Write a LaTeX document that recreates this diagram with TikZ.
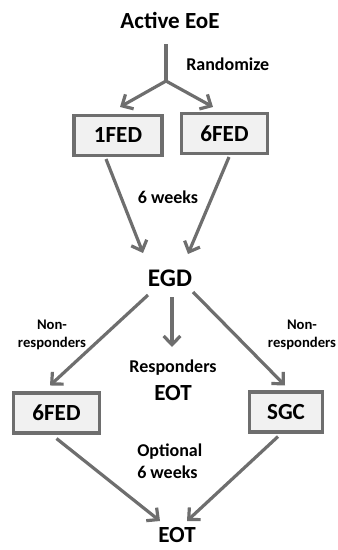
\documentclass[tikz,border=0pt]{standalone}
\usepackage{xcolor}
\usepackage{fontspec}
\setmainfont{Carlito}
\usepackage{tikz}
\usetikzlibrary{arrows.meta}
\definecolor{linegray}{HTML}{6E6E6E}
\definecolor{boxfill}{HTML}{F1F1F1}

\begin{document}
\begin{tikzpicture}[x=0.75pt,y=0.75pt,
                    lbl/.style={inner sep=0pt,font=\bfseries\fontsize{13.5}{16.5}\selectfont,align=center},
                    small/.style={inner sep=0pt,font=\bfseries\fontsize{11}{13}\selectfont,align=center},
                    big/.style={inner sep=0pt,font=\bfseries\fontsize{17.3}{20}\selectfont},
                    box/.style={big,draw=linegray,line width=2.3pt,fill=boxfill,minimum height=30pt},
                    arr/.style={line width=2.4pt,linegray,-{Straight Barb[length=6.5pt,width=12.5pt]}}]
                          \useasboundingbox (0,0) rectangle (338,-550);
                          \node[big] (act) at (170,-20) {Active EoE};
                          \coordinate (split) at (166,-81);
                          \node[lbl,anchor=west] (rand) at (186,-64) {Randomize};
                          \node[box,minimum width=66pt] (fed1) at (118,-135.5) {1FED};
                          \node[box,minimum width=65pt] (fed6) at (224.5,-133.5) {6FED};
                          \node[lbl] (weeks) at (168,-197) {6 weeks};
                          \node[big,font=\bfseries\fontsize{19}{22}\selectfont] (egd) at (170,-278) {EGD};
                          \node[small] (nonl) at (52,-335) {Non-\\responders};
                          \node[small] (nonr) at (302,-335) {Non-\\responders};
                          \node[lbl] (resp) at (173,-368) {Responders};
                          \node[big] (eotm) at (173,-393) {EOT};
                          \node[box,minimum width=65pt] (fed6b) at (56.5,-413) {6FED};
                          \node[box,minimum width=55pt] (sgc) at (286,-412) {SGC};
                          \node[lbl,align=left,anchor=west,font=\bfseries\fontsize{13.5}{16.5}\selectfont] (opt) at (137,-461) {Optional\\6 weeks};
                          \node[big] (eot) at (177,-535) {EOT};
                          \draw[line width=2.4pt,linegray] ([yshift=-12]act.south -| split) -- (split);
                          \draw[arr] (split) -- ([shift={(2,7)}]fed1.north);
                          \draw[arr] (split) -- ([shift={(-11.5,5)}]fed6.north);
                          \draw[arr] ([shift={(-12,-2)}]fed1.south) -- ([shift={(-27,25)}]egd.center);
                          \draw[arr] ([shift={(4.5,-2)}]fed6.south) -- ([shift={(18,24)}]egd.center);
                          \draw[arr] ([shift={(-22,-17)}]egd.center) -- ([shift={(-6.5,6)}]fed6b.north);
                          \draw[arr] ([shift={(2,-19)}]egd.center) -- ([shift={(-1,21)}]resp.center);
                          \draw[arr] ([shift={(23,-14)}]egd.center) -- ([shift={(-1,5)}]sgc.north);
                          \draw[arr] ([shift={(0,-4)}]fed6b.south) -- ([shift={(-17,14)}]eot.center);
                          \draw[arr] ([shift={(-8,-3)}]sgc.south) -- ([shift={(10,14)}]eot.center);
                        \end{tikzpicture}
\end{document}
